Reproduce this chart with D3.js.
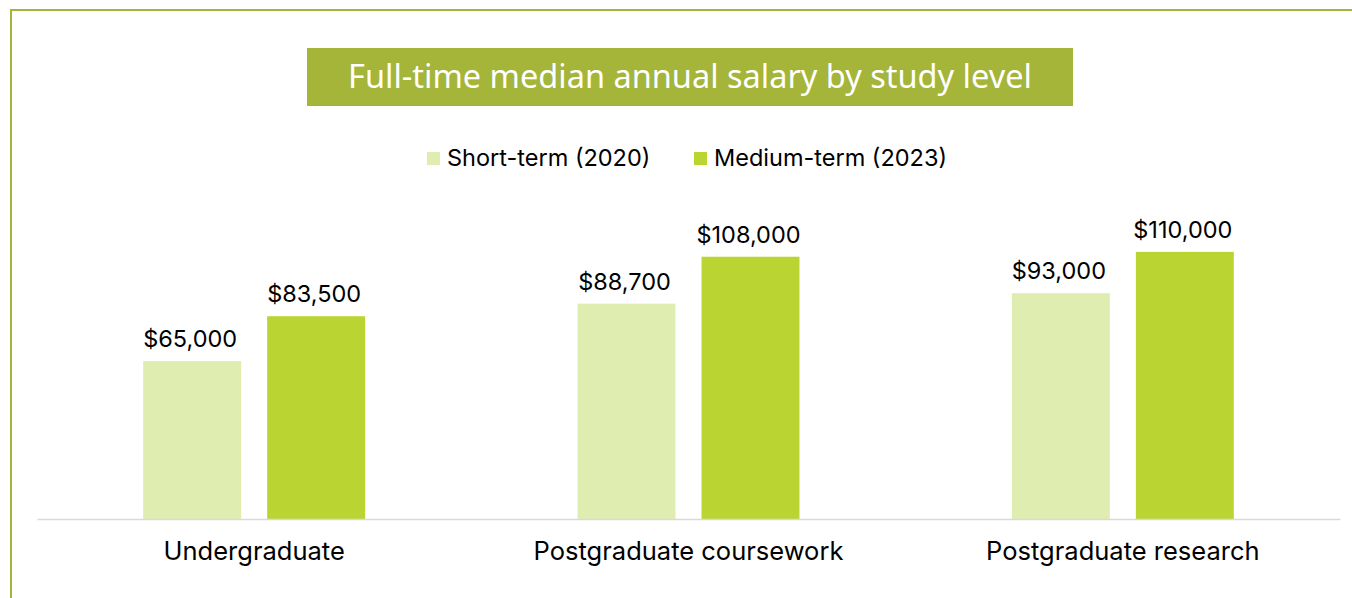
<!DOCTYPE html>
<html lang="en">
<head>
    <meta charset="UTF-8">
    <title>Full-time median annual salary by study level</title>
    <style>
        body { margin: 0; background: #fff; }
    </style>
</head>
<body>
<div id="container"></div>
<script src="https://cdn.jsdelivr.net/npm/d3@7"></script>
<script>
    const categories = ['Undergraduate', 'Postgraduate coursework', 'Postgraduate research']
    const series = ['Short-term (2020)', 'Medium-term (2023)']
    const shortTerm = [65000, 88700, 93000]
    const mediumTerm = [83500, 108000, 110000]

    const width = 1352
    const height = 598
    const baseY = 519
    const green = '#a4b53a'
    const colors = ['#e0edb0', '#bad532']
    const labelFont = 'Inter, "Liberation Sans", Arial, sans-serif'

    const svg = d3.select('#container').append('svg')
        .attr('width', width)
        .attr('height', height)

    // outer frame, runs off the right and bottom edge
    svg.append('rect')
        .attr('x', 11).attr('y', 10)
        .attr('width', width + 20).attr('height', height + 20)
        .attr('fill', 'none')
        .attr('stroke', green)
        .attr('stroke-width', 2)

    /* Title */

    svg.append('rect')
        .attr('x', 307).attr('y', 48)
        .attr('width', 766).attr('height', 58)
        .attr('fill', green)

    svg.append('text')
        .attr('x', 690).attr('y', 88)
        .attr('text-anchor', 'middle')
        .attr('fill', '#fff')
        .attr('font-family', '"Noto Sans", "Open Sans", sans-serif')
        .attr('font-size', '32.5px')
        .text('Full-time median annual salary by study level')

    /* Legend */

    const legendX = [427, 694]
    const legend = svg.append('g').attr('id', 'legend')
        .selectAll('g')
        .data(series)
        .enter()
        .append('g')
        .attr('transform', (d, i) => `translate(${legendX[i]},152)`)

    legend.append('rect')
        .attr('width', 13).attr('height', 13)
        .attr('fill', (d, i) => colors[i])

    legend.append('text')
        .attr('x', 20).attr('y', 14)
        .attr('font-family', labelFont)
        .attr('font-size', '23.5px')
        .attr('fill', '#000')
        .text(d => d)

    /* Scales */

    const x0 = d3.scaleBand()
        .domain(categories)
        .range([37, 1340])
        .paddingInner(0.489)
        .paddingOuter(0.2445)

    const x1 = d3.scaleBand()
        .domain(series)
        .range([0, x0.bandwidth()])
        .paddingInner(0.21)

    const y = d3.scaleLinear()
        .domain([0, 120000])
        .range([baseY, baseY - 291.4])

    const rows = categories.map((c, i) => ({
        category: c,
        values: [
            {key: series[0], value: shortTerm[i], color: colors[0]},
            {key: series[1], value: mediumTerm[i], color: colors[1]}
        ]
    }))

    const groups = svg.append('g').attr('id', 'bars')
        .selectAll('g')
        .data(rows)
        .enter()
        .append('g')
        .attr('transform', d => `translate(${x0(d.category)},0)`)

    groups.selectAll('rect')
        .data(d => d.values)
        .enter()
        .append('rect')
        .attr('x', d => x1(d.key))
        .attr('y', d => y(d.value))
        .attr('width', x1.bandwidth())
        .attr('height', d => baseY - y(d.value))
        .attr('fill', d => d.color)

    groups.selectAll('text')
        .data(d => d.values)
        .enter()
        .append('text')
        .attr('x', d => x1(d.key) + x1.bandwidth() / 2 - 2)
        .attr('y', d => y(d.value) - 14)
        .attr('text-anchor', 'middle')
        .attr('font-family', labelFont)
        .attr('font-size', '23.5px')
        .attr('fill', '#000')
        .text(d => '$' + d3.format(',')(d.value))

    /* Category axis */

    const axis = svg.append('g')
        .attr('transform', `translate(0,${baseY})`)
        .call(d3.axisBottom(x0).tickSize(0).tickSizeOuter(0).tickPadding(41))

    axis.select('.domain')
        .attr('stroke', '#d9d9d9')
        .attr('stroke-width', 1.5)

    axis.selectAll('.tick text')
        .attr('font-family', labelFont)
        .attr('font-size', '25.5px')
        .attr('fill', '#000')
        .attr('dy', 0)
</script>
</body>
</html>
